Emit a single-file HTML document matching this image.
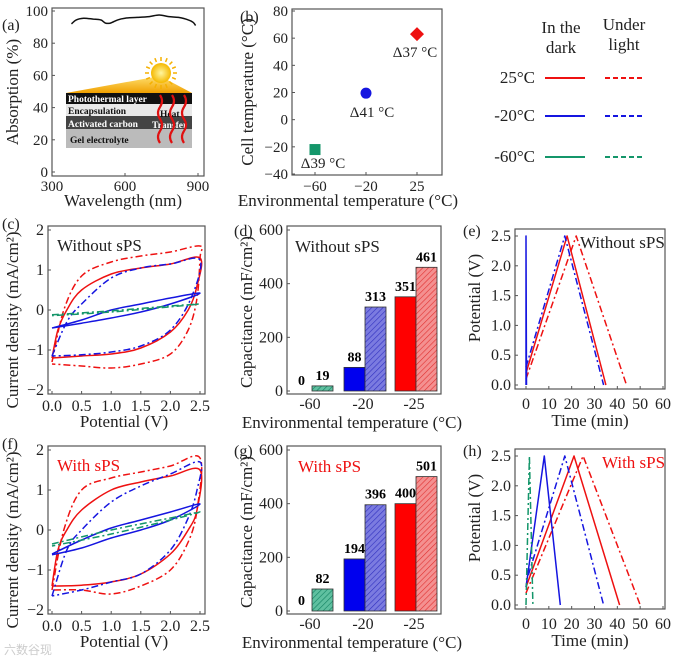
<!DOCTYPE html>
<html><head><meta charset="utf-8">
<style>
html,body{margin:0;padding:0;background:#fff;}
svg{display:block;font-family:"Liberation Serif",serif;}
.tk{font-size:16px;fill:#222;}
.tk1{font-size:15px;fill:#222;}
.tt{font-size:17px;fill:#222;}
.pl{font-size:16px;fill:#222;}
</style></head>
<body>
<svg id="fig" width="680" height="656" viewBox="0 0 680 656" xmlns="http://www.w3.org/2000/svg">
<defs>
<pattern id="hb" width="4" height="4" patternUnits="userSpaceOnUse" patternTransform="rotate(45)"><rect width="4" height="4" fill="#7b7be0"/><line x1="0" y1="0" x2="0" y2="4" stroke="#3030c0" stroke-width="1.2"/></pattern>
<pattern id="hr" width="4" height="4" patternUnits="userSpaceOnUse" patternTransform="rotate(45)"><rect width="4" height="4" fill="#f49090"/><line x1="0" y1="0" x2="0" y2="4" stroke="#e03030" stroke-width="1.2"/></pattern>
<pattern id="hg" width="4" height="4" patternUnits="userSpaceOnUse" patternTransform="rotate(45)"><rect width="4" height="4" fill="#5fc0a0"/><line x1="0" y1="0" x2="0" y2="4" stroke="#108060" stroke-width="1.2"/></pattern>
<linearGradient id="beam" x1="0" y1="0" x2="0" y2="1"><stop offset="0" stop-color="#ffe070"/><stop offset="1" stop-color="#f0a000"/></linearGradient>
<radialGradient id="sun"><stop offset="0" stop-color="#fff6a0"/><stop offset="1" stop-color="#f5b800"/></radialGradient>
</defs>
<g id="root"></g>
<text x="4" y="654" font-size="12" fill="#ccc" font-family="'Liberation Sans','Noto Sans CJK SC',sans-serif">六数谷现</text>
</svg>
<script>
// ---------- DATA ----------
const absWl = [380,400,430,470,500,520,540,570,600,650,700,740,780,820,860,880,890];
const absVal = [92,94.5,95.5,95,94.5,92.5,92.5,94.5,95.5,96,96.5,97.5,96.5,96,94.5,93,91];
const bCats = ["-60","-20","25"];
const bCell = [-22,19.5,63];
const bDelta = ["Δ39 °C","Δ41 °C","Δ37 °C"];
const barCats = ["-60","-20","-25"];
const darkCap1 = [0,88,351];
const lightCap1 = [19,313,461];
const darkCap2 = [0,194,400];
const lightCap2 = [82,396,501];
// CV loops (potential V, current mA/cm2)
const cvC_redSolid = [[0,-1.2],[0.1,-0.5],[0.25,0],[0.5,0.5],[1,0.9],[1.5,1.05],[2,1.15],[2.5,1.3],[2.45,0.6],[2.3,0],[2,-0.55],[1.5,-0.95],[1,-1.1],[0.5,-1.15],[0,-1.2]];
const cvC_redDash = [[0,-1.3],[0.2,0],[0.5,0.85],[1,1.2],[1.5,1.35],[2,1.45],[2.5,1.6],[2.5,1.3],[2.45,0.3],[2.3,-0.5],[2,-1.1],[1.5,-1.35],[1,-1.45],[0.5,-1.4],[0,-1.35]];
const cvC_blueDash = [[0,-1.15],[0.25,-0.3],[0.5,0.15],[1,0.8],[1.5,1.05],[2,1.15],[2.5,1.25],[2.35,0.3],[2,-0.5],[1.5,-0.9],[1,-1.05],[0.5,-1.12],[0,-1.15]];
const cvC_blueSolid = [[0,-0.45],[0.5,-0.25],[1,0],[1.5,0.15],[2,0.3],[2.5,0.42],[2,0.15],[1.5,-0.05],[1,-0.2],[0.5,-0.33],[0,-0.45]];
const cvC_greenDash = [[0,-0.12],[1,-0.02],[2,0.1],[2.5,0.15],[2,0.08],[1,-0.05],[0,-0.14]];
const cvF_redSolid = [[0,-1.4],[0.1,-0.5],[0.25,0],[0.5,0.5],[1,1.0],[1.5,1.2],[2,1.35],[2.5,1.5],[2.45,0.5],[2.3,0],[2,-0.6],[1.5,-1.1],[1,-1.3],[0.5,-1.38],[0,-1.4]];
const cvF_redDash = [[0,-1.5],[0.2,0],[0.5,1.0],[1,1.3],[1.5,1.45],[2,1.6],[2.5,1.8],[2.45,0.5],[2.3,-0.3],[2,-1.0],[1.5,-1.4],[1,-1.6],[0.5,-1.5],[0,-1.5]];
const cvF_blueDash = [[0,-1.65],[0.25,-0.5],[0.5,0],[1,0.7],[1.5,1.1],[2,1.4],[2.5,1.7],[2.45,1.0],[2.3,0.3],[2,-0.5],[1.5,-1.1],[1,-1.3],[0.5,-1.5],[0,-1.65]];
const cvF_blueSolid = [[0,-0.6],[0.5,-0.25],[1,0.05],[1.5,0.25],[2,0.45],[2.5,0.65],[2,0.25],[1.5,0],[1,-0.2],[0.5,-0.45],[0,-0.62]];
const cvF_greenDash = [[0,-0.35],[1,0],[2,0.3],[2.5,0.45],[2,0.25],[1,-0.1],[0,-0.4]];
// GCD (time min, potential V)
const gE_blueSolid = [[0,0],[0,2.5],[0.2,0]];
const gE_blueDash = [[0,0.3],[17,2.5],[34,0]];
const gE_redSolid = [[0,0.2],[18,2.5],[35,0]];
const gE_redDash = [[0,0.1],[22,2.5],[44,0]];
const gH_greenDash = [[0,0],[1.5,2.5],[3,0]];
const gH_blueSolid = [[0,0.3],[8,2.5],[15,0]];
const gH_blueDash = [[1,0.5],[17,2.5],[34,0]];
const gH_redSolid = [[0,0.3],[21,2.5],[41,0]];
const gH_redDash = [[0,0.2],[25,2.5],[50,0]];
const cvTicksX = [0,0.5,1,1.5,2,2.5];
const cvTicksY = [-2,-1,0,1,2];
const capTicks = [0,200,400,600];
const gcdTicksX = [0,10,20,30,40,50,60];
const gcdTicksY = [0,0.5,1,1.5,2,2.5];

// ---------- HELPERS ----------
const NS="http://www.w3.org/2000/svg";
const root=document.getElementById('root');
function el(tag,attrs,parent,txt){const e=document.createElementNS(NS,tag);for(const k in attrs)e.setAttribute(k,attrs[k]);if(txt!==undefined)e.textContent=txt;(parent||root).appendChild(e);return e;}
function lin(d0,d1,r0,r1){return v=>r0+(v-d0)*(r1-r0)/(d1-d0);}
const RED="#ee1111",BLUE="#1515e0",GREEN="#14966a";
const DD="7,3,2,3";
function box(x0,y0,x1,y1,name){const r=el('rect',{x:x0,y:y0,width:x1-x0,height:y1-y0,fill:'none',stroke:'#555','stroke-width':1.2});}
function tickText(x,y,s,anchor,name,cls){const t=el('text',{x:x,y:y,'text-anchor':anchor,class:cls||'tk'},root,s);return t;}
function line(pts,sx,sy,color,dash,name){const d=pts.map((p,i)=>(i?'L':'M')+sx(p[0]).toFixed(1)+','+sy(p[1]).toFixed(1)).join('');const p=el('path',{d:d,fill:'none',stroke:color,'stroke-width':1.5,'stroke-linejoin':'round'});if(dash)p.setAttribute('stroke-dasharray',dash);}
function smooth(pts,sx,sy,color,dash,name){let d='M'+sx(pts[0][0])+','+sy(pts[0][1]);for(let i=1;i<pts.length;i++){const p0=pts[Math.max(i-2,0)],p1=pts[i-1],p2=pts[i],p3=pts[Math.min(i+1,pts.length-1)];const x1=sx(p1[0])+(sx(p2[0])-sx(p0[0]))/6,y1=sy(p1[1])+(sy(p2[1])-sy(p0[1]))/6,x2=sx(p2[0])-(sx(p3[0])-sx(p1[0]))/6,y2=sy(p2[1])-(sy(p3[1])-sy(p1[1]))/6;d+='C'+x1.toFixed(1)+','+y1.toFixed(1)+' '+x2.toFixed(1)+','+y2.toFixed(1)+' '+sx(p2[0]).toFixed(1)+','+sy(p2[1]).toFixed(1);}const p=el('path',{d:d,fill:'none',stroke:color,'stroke-width':1.5});if(dash)p.setAttribute('stroke-dasharray',dash);}
function title(x,y,s,rot,name){const a={x:x,y:y,'text-anchor':'middle',class:'tt'};if(rot)a.transform='rotate(-90 '+x+' '+y+')';const t=el('text',a,root,s);return t;}
function plabel(x,y,s,name){const t=el('text',{x:x,y:y,class:'pl'},root,s);}
function clabel(x,y,s,color,name){const t=el('text',{x:x,y:y,class:'tt'},root,s);t.setAttribute('style','fill:'+color);}
function yticks(ticks,sy,xbox,fmt,name,cls){ticks.forEach(v=>{el('line',{x1:xbox,x2:xbox+3,y1:sy(v),y2:sy(v),stroke:'#555'});tickText(xbox-4,sy(v)+5,fmt(v),'end',name,cls);});}
function xticks(ticks,sx,ybox,ty,fmt,name,cls){ticks.forEach(v=>{el('line',{x1:sx(v),x2:sx(v),y1:ybox,y2:ybox-3,stroke:'#555'});tickText(sx(v),ty,fmt(v),'middle',name,cls);});}
const neg=v=>(v<0?'−':'')+Math.abs(v);

// ---------- (a) ----------
(function(){
 const sx=lin(300,900,52,198), sy=lin(0,100,172,11);
 box(52,8,204,176,'absorption-plot-frame');
 yticks([0,20,40,60,80,100],sy,52,v=>String(v),'absorption-y-tick','tk1');
 xticks([300,600,900],sx,176,191,v=>String(v),'wavelength-x-tick','tk1');
 smooth(absWl.map((w,i)=>[w,absVal[i]]),sx,sy,'#111',null,'absorption-curve');
 title(123,206,'Wavelength (nm)',false,'wavelength-axis-title');
 title(18,92,'Absorption (%)',true,'absorption-axis-title');
 plabel(2,30,'(a)','panel-label-a');
 const g=el('g',{});
 el('polygon',{points:'66,93 160,76 192,93',fill:'url(#beam)'},g);
 el('circle',{cx:161,cy:73,r:10,fill:'url(#sun)'},g);
 for(let k=0;k<16;k++){const a=k*Math.PI/8;el('line',{x1:161+12*Math.cos(a),y1:73+12*Math.sin(a),x2:161+16*Math.cos(a),y2:73+16*Math.sin(a),stroke:'#f5b000','stroke-width':1.5},g);}
 el('rect',{x:66,y:93,width:126,height:11,fill:'#111'},g);
 el('rect',{x:66,y:104,width:126,height:12,fill:'#e8e8e8'},g);
 el('rect',{x:66,y:116,width:126,height:13,fill:'#444'},g);
 el('rect',{x:66,y:129,width:126,height:19,fill:'#bbb'},g);
 const tx=[[68,102,'Photothermal layer','#fff'],[68,114,'Encapsulation','#111'],[68,127,'Activated carbon','#fff'],[70,143,'Gel electrolyte','#111'],[160,117,'Heat','#111'],[152,128,'Transfer','#fff']];
 tx.forEach(t=>el('text',{x:t[0],y:t[1],'font-size':9.5,'font-weight':'bold',fill:t[3]},g,t[2]));
 [160,172,184].forEach(x=>el('path',{d:`M${x},95 q4,6 0,12 q-4,6 0,12 q4,6 0,12 q-4,6 0,12`,fill:'none',stroke:'#e01010','stroke-width':2.2},g));
})();

// ---------- (b) ----------
(function(){
 const sy=lin(-40,80,174,11); const cx=[315,366,417];
 box(292,9,442,175,'cell-temp-plot-frame');
 yticks([-40,-20,0,20,40,60,80],sy,292,neg,'cell-temp-y-tick','tk1');
 bCats.forEach((c,i)=>{el('line',{x1:cx[i],x2:cx[i],y1:175,y2:172,stroke:'#555'});tickText(cx[i],191,c.replace('-','−'),'middle','env-temp-x-tick','tk1');});
 const cols=[GREEN,BLUE,RED];
 const lx=[323,372,415], ly=[168,117,57];
 bCats.forEach((c,i)=>{const x=cx[i],y=sy(bCell[i]);let m;
  if(i===0)m=el('rect',{x:x-5.5,y:y-5.5,width:11,height:11,fill:cols[i]});
  else if(i===1)m=el('circle',{cx:x,cy:y,r:5.5,fill:cols[i]});
  else m=el('polygon',{points:`${x},${y-7} ${x+7},${y} ${x},${y+7} ${x-7},${y}`,fill:cols[i]});
  
  const t=el('text',{x:lx[i],y:ly[i],'text-anchor':'middle',class:'tk1'},root,bDelta[i]);
  });
 title(348,206,'Environmental  temperature (°C)',false,'env-temp-axis-title');
 title(253,92,'Cell temperature (°C)',true,'cell-temp-axis-title');
 plabel(240,22,'(b)','panel-label-b');
})();

// ---------- legend ----------
(function(){
 const g=el('g',{});
 [['In the',561,33],['dark',561,53],['Under',624,30],['light',624,50]].forEach(t=>el('text',{x:t[1],y:t[2],'text-anchor':'middle',class:'tt'},g,t[0]));
 const rows=[['25°C',78,RED],['-20°C',116,BLUE],['-60°C',157,GREEN]];
 rows.forEach(r=>{const t=el('text',{x:535,y:r[1]+5,'text-anchor':'end',class:'tt'},g,r[0]);
  el('line',{x1:545,x2:585,y1:r[1],y2:r[1],stroke:r[2],'stroke-width':2},g);
  el('line',{x1:605,x2:645,y1:r[1],y2:r[1],stroke:r[2],'stroke-width':2,'stroke-dasharray':'5,3'},g);});
})();

// ---------- CV panels ----------
function cvPanel(dy,curves,label,lblColor,pl){
 const sx=lin(0,2.5,52,200), sy=lin(-2,2,390+dy,230+dy);
 box(48,226+dy,205,394+dy,'cv-plot-frame');
 yticks(cvTicksY,sy,48,neg,'current-y-tick');
 xticks(cvTicksX,sx,394+dy,411+dy,v=>v.toFixed(1),'potential-x-tick');
 curves.forEach(c=>smooth(c[0],sx,sy,c[1],c[2],c[3]));
 clabel(57,251+dy,label,lblColor,'cv-condition-label');
 title(124,427+dy,'Potential (V)',false,'potential-axis-title');
 title(18,320+dy,'Current density (mA/cm²)',true,'current-axis-title');
 plabel(2,229+dy,pl,'panel-label-'+pl[1]);
}
cvPanel(0,[[cvC_redDash,RED,DD,'cv-red-light'],[cvC_redSolid,RED,null,'cv-red-dark'],[cvC_blueDash,BLUE,DD,'cv-blue-light'],[cvC_blueSolid,BLUE,null,'cv-blue-dark'],[cvC_greenDash,GREEN,DD,'cv-green-light']],'Without sPS','#222','(c)');
cvPanel(220,[[cvF_redDash,RED,DD,'cv-red-light'],[cvF_redSolid,RED,null,'cv-red-dark'],[cvF_blueDash,BLUE,DD,'cv-blue-light'],[cvF_blueSolid,BLUE,null,'cv-blue-dark'],[cvF_greenDash,GREEN,DD,'cv-green-light']],'With sPS','#ee1111','(f)');

// ---------- Bar panels ----------
function barPanel(dy,dark,light,label,lblColor,pl,lx){
 const sy=lin(0,600,391+dy,230+dy); const cx=[312,365,416]; const bw=21;
 box(287,226+dy,441,394+dy,'capacitance-plot-frame');
 yticks(capTicks,sy,287,v=>String(v),'capacitance-y-tick');
 barCats.forEach((c,i)=>tickText(cx[i]-2,409+dy,c,'middle','env-temp-x-tick'));
 const dc=[GREEN,'#0000ee','#ff0000'], lc=['url(#hg)','url(#hb)','url(#hr)'];
 barCats.forEach((c,i)=>{
  const b1=el('rect',{x:cx[i]-bw,y:sy(dark[i]),width:bw,height:sy(0)-sy(dark[i]),fill:dc[i],stroke:'#333','stroke-width':0.8});
  
  const b2=el('rect',{x:cx[i],y:sy(light[i]),width:bw,height:sy(0)-sy(light[i]),fill:lc[i],stroke:'#333','stroke-width':0.8});
  
  const t1=el('text',{x:cx[i]-bw/2,y:sy(dark[i])-6,'text-anchor':'middle','font-size':14,'font-weight':'bold'},root,String(dark[i]));
  
  const t2=el('text',{x:cx[i]+bw/2,y:sy(light[i])-6,'text-anchor':'middle','font-size':14,'font-weight':'bold'},root,String(light[i]));
  });
 clabel(lx,252+dy,label,lblColor,'bar-condition-label');
 title(352,428+dy,'Environmental temperature (°C)',false,'env-temp-axis-title');
 title(252,312+dy,'Capacitance (mF/cm²)',true,'capacitance-axis-title');
 plabel(234,236+dy,pl,'panel-label-'+pl[1]);
}
barPanel(0,darkCap1,lightCap1,'Without sPS','#222','(d)',295);
barPanel(220,darkCap2,lightCap2,'With sPS','#ee1111','(g)',298);

// ---------- GCD panels ----------
function gcdPanel(dy0,y0,y25,curves,label,lblColor,pl,lx){
 const sx=lin(0,60,526,663), sy=lin(0,2.5,y0,y25);
 box(515,229+dy0,665,389+dy0,'gcd-plot-frame');
 yticks(gcdTicksY,sy,515,v=>v.toFixed(1),'potential-y-tick');
 xticks(gcdTicksX,sx,389+dy0,409+dy0,v=>String(v),'time-x-tick');
 curves.forEach(c=>line(c[0],sx,sy,c[1],c[2],c[3]));
 clabel(lx,248+dy0,label,lblColor,'gcd-condition-label');
 title(590,426+dy0,'Time (min)',false,'time-axis-title');
 title(480,298+dy0,'Potential (V)',true,'potential-axis-title');
 plabel(463,236+dy0,pl,'panel-label-'+pl[1]);
}
gcdPanel(0,385,236,[[gE_redDash,RED,DD,'gcd-red-light'],[gE_redSolid,RED,null,'gcd-red-dark'],[gE_blueDash,BLUE,DD,'gcd-blue-light'],[gE_blueSolid,BLUE,null,'gcd-blue-dark']],'Without sPS','#222','(e)',580);
gcdPanel(220,605,456,[[gH_redDash,RED,DD,'gcd-red-light'],[gH_redSolid,RED,null,'gcd-red-dark'],[gH_blueDash,BLUE,DD,'gcd-blue-light'],[gH_blueSolid,BLUE,null,'gcd-blue-dark'],[gH_greenDash,GREEN,DD,'gcd-green-light']],'With sPS','#ee1111','(h)',602);
</script>
</body></html>
